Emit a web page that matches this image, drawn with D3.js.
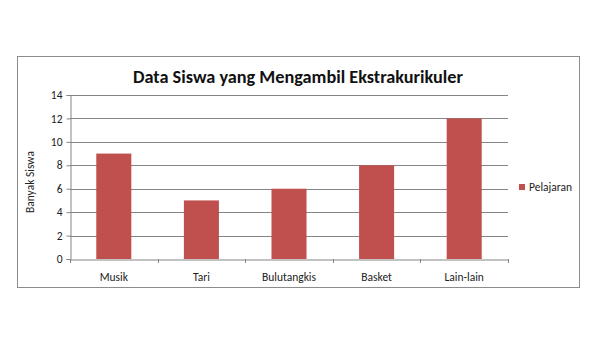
<!DOCTYPE html>
<html><head><meta charset="utf-8">
<script src="https://cdn.jsdelivr.net/npm/d3@7"></script>
<style>body{margin:0;background:#fff}svg{display:block}</style>
</head><body>
<svg id="c" width="600" height="337"></svg>
<script>
const categories = ["Musik","Tari","Bulutangkis","Basket","Lain-lain"];
const values = [9,5,6,8,12];
const yTicks = [0,2,4,6,8,10,12,14];
const seriesName = "Pelajaran";
const title = "Data Siswa yang Mengambil Ekstrakurikuler";
const yTitle = "Banyak Siswa";

const svg = d3.select("#c");
const font = "Carlito, Calibri, 'Open Sans', sans-serif";
svg.append("rect").attr("x",17.5).attr("y",56.5).attr("width",562).attr("height",231)
  .attr("fill","#fff").attr("stroke","#8c8c8c").attr("stroke-width",1);

const x = d3.scaleBand().domain(categories).range([70,508]).paddingInner(0.6).paddingOuter(0.3);
const xb = d3.scaleBand().domain(categories).range([70,508]);
const y = d3.scaleLinear().domain([0,14]).range([259,95]);

// gridlines
svg.append("g").selectAll("line").data(yTicks.filter(d=>d>0)).join("line")
  .attr("x1",70).attr("x2",508).attr("y1",d=>Math.round(y(d))+0.5).attr("y2",d=>Math.round(y(d))+0.5)
  .attr("stroke","#858585").attr("stroke-width",1);

// bars
svg.append("g").selectAll("rect").data(values).join("rect")
  .attr("x",(d,i)=>x(categories[i])).attr("width",x.bandwidth())
  .attr("y",d=>y(d)).attr("height",d=>y(0)-y(d)).attr("fill","#c0504d");

// y axis
const ya = svg.append("g").attr("transform","translate(70.5,0)")
  .call(d3.axisLeft(y).tickValues(yTicks).tickSize(4).tickPadding(4));
ya.select(".domain").attr("stroke","#858585");
ya.selectAll(".tick line").attr("stroke","#858585");
ya.selectAll(".tick text").attr("font-family",font).attr("font-size",11.5).attr("fill","#222");

// x axis
const xa = svg.append("g").attr("transform","translate(0,259.5)")
  .call(d3.axisBottom(xb).tickSize(0).tickPadding(13));
xa.select(".domain").attr("stroke","#858585");
xa.selectAll(".tick text").attr("font-family",font).attr("font-size",11.5).attr("fill","#222");
svg.append("g").selectAll("line").data(categories.concat(["end"])).join("line")
  .attr("x1",(d,i)=>Math.round(70+i*xb.bandwidth())+0.5).attr("x2",(d,i)=>Math.round(70+i*xb.bandwidth())+0.5)
  .attr("y1",259).attr("y2",263).attr("stroke","#858585");

// title
svg.append("text").attr("x",298).attr("y",83).attr("text-anchor","middle")
  .attr("font-family",font).attr("font-weight","bold").attr("font-size",17).attr("fill","#111")
  .attr("textLength",330).attr("lengthAdjust","spacingAndGlyphs").text(title);

// y title
svg.append("text").attr("transform","translate(34,182) rotate(-90)").attr("text-anchor","middle")
  .attr("font-family",font).attr("font-size",11.5).attr("fill","#222").text(yTitle);

// legend
svg.append("rect").attr("x",519).attr("y",184).attr("width",6).attr("height",6).attr("fill","#c0504d");
svg.append("text").attr("x",529).attr("y",191).attr("font-family",font).attr("font-size",11.5)
  .attr("fill","#222").text(seriesName);
</script>
</body></html>
